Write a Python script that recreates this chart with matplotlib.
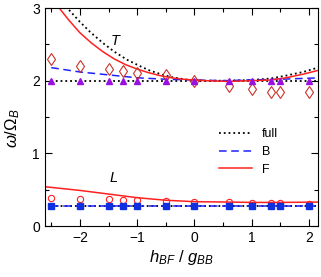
import numpy as np
import matplotlib
matplotlib.use('Agg')
import matplotlib.pyplot as plt
from matplotlib.ticker import MultipleLocator

plt.rcParams['font.family'] = ['Liberation Sans', 'DejaVu Sans']
plt.rcParams['mathtext.fontset'] = 'custom'
plt.rcParams['mathtext.rm'] = 'Liberation Sans'
plt.rcParams['mathtext.it'] = 'Liberation Sans:italic'

# simulation points (T and L modes)
x_pts = [-2.5, -2.0, -1.5, -1.25, -1.0, -0.5, 0.0, 0.6, 1.0, 1.33, 1.5, 2.0]
T_F_pts = [2.30, 2.20, 2.16, 2.14, 2.11, 2.08, 1.99, 1.93, 1.89, 1.84, 1.84, 1.84]
T_B_pts = [2.0, 2.0, 2.0, 2.0, 2.0, 2.0, 2.0, 2.0, 2.0, 2.0, 2.0, 2.0]
L_F_pts = [0.385, 0.375, 0.37, 0.36, 0.355, 0.35, 0.335, 0.325, 0.32, 0.32, 0.32, 0.31]
L_B_pts = [0.275, 0.275, 0.275, 0.275, 0.275, 0.275, 0.275, 0.275, 0.275, 0.275, 0.275, 0.275]

# theory curves
x_full_T = [-2.45, -2.22, -2.0, -1.82, -1.6, -1.4, -1.18, -0.95, -0.78, -0.55, -0.37, -0.1,
            0.2, 0.6, 1.0, 1.33, 1.6, 1.9, 2.2]
full_T = [3.22, 3.0, 2.81, 2.67, 2.52, 2.40, 2.29, 2.20, 2.14, 2.08, 2.045, 2.01,
          2.0, 2.0, 2.01, 2.03, 2.07, 2.12, 2.19]
x_F_T = [-2.55, -2.36, -2.2, -2.0, -1.8, -1.6, -1.4, -1.2, -1.0, -0.8, -0.6, -0.4, -0.2,
         0.2, 0.6, 1.0, 1.33, 1.6, 1.9, 2.2]
F_T = [3.22, 3.0, 2.84, 2.66, 2.52, 2.40, 2.30, 2.22, 2.16, 2.11, 2.07, 2.04, 2.02,
       2.0, 1.99, 2.0, 2.01, 2.04, 2.09, 2.15]
x_B_T = [-2.5, -2.0, -1.5, -1.0, -0.5, 0.0, 0.5, 1.0, 1.5, 2.2]
B_T = [2.18, 2.12, 2.08, 2.04, 2.02, 2.01, 2.0, 2.01, 2.02, 2.04]
x_F_L = [-2.6, -2.0, -1.5, -1.0, -0.5, 0.0, 0.6, 1.0, 1.5, 2.2]
F_L = [0.54, 0.49, 0.44, 0.39, 0.355, 0.335, 0.33, 0.325, 0.325, 0.33]
x_flat = [-2.5, 2.2]
full_T2 = [2.0, 2.0]
full_L = [0.275, 0.275]
B_L = [0.275, 0.275]

fig = plt.figure(figsize=(3.21, 2.77), dpi=100)
ax = fig.add_axes([0.140, 0.184, 0.851, 0.787])

red = '#ff2020'
blue = '#2020ff'

ax.plot(x_full_T, full_T, ':', color='black', lw=1.3, label='full')
ax.plot(x_flat, full_T2, ':', color='black', lw=1.3)
ax.plot(x_flat, full_L, ':', color='black', lw=1.3)
ax.plot(x_B_T, B_T, '--', color=blue, lw=1.1, dashes=(5, 3), label='B')
ax.plot(x_flat, B_L, '--', color=blue, lw=1.1, dashes=(5, 3))
ax.plot(x_F_T, F_T, '-', color=red, lw=1.1, label='F')
ax.plot(x_F_L, F_L, '-', color=red, lw=1.1)

ax.plot(x_pts, T_F_pts, 'd', mfc='none', mec='#c8322a', ms=6.5, mew=0.8, ls='none')
ax.plot(x_pts, T_B_pts, '^', color='#9a10e0', ms=5, ls='none')
ax.plot(x_pts, L_F_pts, 'o', mfc='none', mec=red, ms=4.5, mew=0.8, ls='none')
ax.plot(x_pts, L_B_pts, 's', color='#1030e0', ms=4, ls='none')

ax.text(-1.39, 2.55, 'T', fontsize=10.5, style='italic', ha='center', va='center')
ax.text(-1.41, 0.66, 'L', fontsize=10.5, style='italic', ha='center', va='center')

ax.set_xlim(-2.61, 2.16)
ax.set_ylim(0, 3)
ax.xaxis.set_major_locator(MultipleLocator(1))
ax.xaxis.set_minor_locator(MultipleLocator(0.5))
ax.yaxis.set_major_locator(MultipleLocator(1))
ax.yaxis.set_minor_locator(MultipleLocator(0.5))
ax.tick_params(which='both', direction='in', top=True, right=True, labelsize=10, width=0.8)
ax.tick_params(which='major', length=5)
ax.tick_params(which='minor', length=3)
for s in ax.spines.values():
    s.set_linewidth(0.8)

ax.set_xlabel(r'$h_{BF}$ / $g_{BB}$', fontsize=12, labelpad=2)
ax.set_ylabel(r'$\omega/\Omega_B$', fontsize=12)
ax.yaxis.set_label_coords(-0.085, 0.45)

ax.legend(loc='center', bbox_to_anchor=(0.745, 0.34), frameon=False, fontsize=9,
          handlelength=2.7, labelspacing=0.45, handletextpad=0.8)

plt.savefig('out.png', dpi=100)
